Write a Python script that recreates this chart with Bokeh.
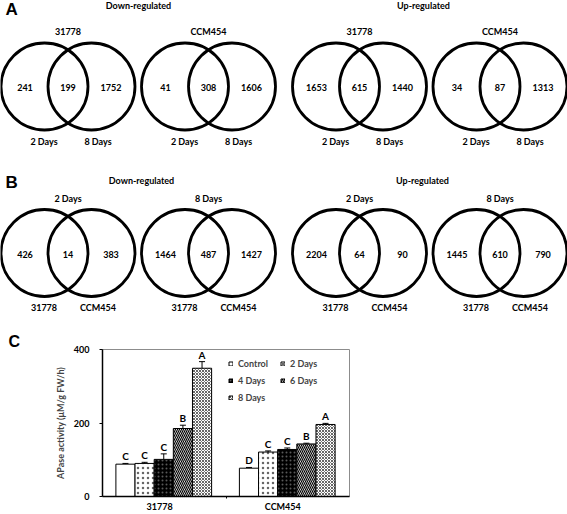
from bokeh.plotting import figure
from bokeh.models import (Range1d, Legend, LegendItem, Whisker, TeeHead,
                          ColumnDataSource, FixedTicker)
from bokeh.core.properties import value
from bokeh.embed import file_html
from bokeh.resources import INLINE

# ---------------- data ----------------
# Venn diagrams (panels A and B), in reading order
venn_titles = ["Down-regulated", "Up-regulated", "Down-regulated", "Up-regulated"]
venn_top = ["31778", "CCM454", "31778", "CCM454", "2 Days", "8 Days", "2 Days", "8 Days"]
venn_left_name = ["2 Days", "2 Days", "2 Days", "2 Days", "31778", "31778", "31778", "31778"]
venn_right_name = ["8 Days", "8 Days", "8 Days", "8 Days", "CCM454", "CCM454", "CCM454", "CCM454"]
venn_only_left = [241, 41, 1653, 34, 426, 1464, 2204, 1445]
venn_both = [199, 308, 615, 87, 14, 487, 64, 610]
venn_only_right = [1752, 1606, 1440, 1313, 383, 1427, 90, 790]

# Bar chart (panel C)
strains = ["31778", "CCM454"]
treatments = ["Control", "2 Days", "4 Days", "6 Days", "8 Days"]
apase_31778 = [88, 90, 101, 185, 349]
apase_ccm454 = [77, 121, 128, 143, 196]
err_31778 = [2, 3, 15, 9, 18]
err_ccm454 = [2, 3, 4, 2, 3]
letters_31778 = ["C", "C", "C", "B", "A"]
letters_ccm454 = ["D", "C", "C", "B", "A"]
y_ticks = [0, 200, 400]

# ---------------- style / layout ----------------
W = 567
FONT = value("Lato")
TXT = "9px"

# ---------------- Venn figure ----------------
v = figure(width=W, height=330, x_range=Range1d(0, 567), y_range=Range1d(330, 0),
           output_backend="svg", toolbar_location=None, min_border=0)
v.axis.visible = False
v.grid.visible = False
v.outline_line_color = None

col_mid = [67.5, 208, 359, 499.5]
row_mid = [86, 252.5]
half_sep = 23.5
radius = 43.5

cx, cy = [], []
num_x, num_y, num_t = [], [], []
top_x, top_y, top_t = [], [], []
bot_x, bot_y, bot_t = [], [], []
for k in range(len(venn_both)):
    mx = col_mid[k % 4]
    my = row_mid[k // 4]
    cx += [mx - half_sep, mx + half_sep]
    cy += [my, my]
    num_x += [mx - 43, mx, mx + 43]
    num_y += [my + 1, my + 1, my + 1]
    num_t += [str(venn_only_left[k]), str(venn_both[k]), str(venn_only_right[k])]
    top_x.append(mx)
    top_y.append(my - 55)
    top_t.append(venn_top[k])
    bot_x += [mx - 24, mx + 30]
    bot_y += [my + 54.5, my + 54.5]
    bot_t += [venn_left_name[k], venn_right_name[k]]

v.circle(x=cx, y=cy, radius=radius, fill_color=None, line_color="black", line_width=2.8)

def vtext(xs, ys, ts, size=TXT):
    v.text(x=xs, y=ys, text=ts, text_font=FONT, text_font_style="bold",
           text_font_size=size, text_align="center", text_baseline="middle",
           text_color="black")

vtext(num_x, num_y, num_t)
vtext(top_x, top_y, top_t)
vtext(bot_x, bot_y, bot_t)
title_x = [138, 423, 141, 422]
title_y = [5, 5, 180, 180]
vtext(title_x, title_y, venn_titles)

v.text(x=[5, 5], y=[8.5, 181.5], text=["A", "B"], text_font=value("Liberation Sans"),
       text_font_style="bold", text_font_size="17px", text_align="left",
       text_baseline="middle", text_color="black")

# ---------------- Bar figure ----------------
b = figure(width=W, height=184, x_range=Range1d(0, 2), y_range=Range1d(0, 400),
           output_backend="svg", toolbar_location=None,
           min_border_left=102, min_border_right=218, min_border_top=18, min_border_bottom=18)
b.grid.visible = False
b.outline_line_color = "#8c8c8c"
b.outline_line_width = 1

# panel letter as the figure title
b.title.text = "C"
b.title.align = "left"
b.title.offset = -94
b.title.standoff = 0
b.title.text_font = "Liberation Sans"
b.title.text_font_style = "bold"
b.title.text_font_size = "16px"
b.title.text_color = "black"

bar_w = 0.155
group_center = [i + 0.496 for i in range(len(strains))]
styles = [
    dict(fill_color="white"),
    dict(fill_color="white", hatch_pattern="dot", hatch_color="black", hatch_scale=5, hatch_weight=0.5, hatch_alpha=0.6),
    dict(fill_color="black", hatch_pattern="dot", hatch_color="white", hatch_scale=4, hatch_weight=0.5, hatch_alpha=0.35),
    dict(fill_color="white", hatch_pattern="left_diagonal_line", hatch_color="black", hatch_scale=4, hatch_weight=1.2),
    dict(fill_color="white", hatch_pattern="diagonal_cross", hatch_color="black", hatch_scale=3, hatch_weight=0.6),
]

items = []
wx, wlo, whi, lt = [], [], [], []
for j, t in enumerate(treatments):
    vals = [apase_31778[j], apase_ccm454[j]]
    errs = [err_31778[j], err_ccm454[j]]
    xs = [g + (j - 2) * bar_w for g in group_center]
    r = b.vbar(x=xs, top=vals, width=bar_w, bottom=0, line_color="black", line_width=1, **styles[j])
    items.append(LegendItem(label=t, renderers=[r]))
    wx += xs
    wlo += vals
    whi += [a + e for a, e in zip(vals, errs)]
    lt += [letters_31778[j], letters_ccm454[j]]

wsrc = ColumnDataSource(dict(x=wx, lo=wlo, hi=whi, t=lt))
b.add_layout(Whisker(base="x", lower="lo", upper="hi", source=wsrc, dimension="height",
                     line_color="black", line_width=1,
                     upper_head=TeeHead(size=6, line_color="black", line_width=1),
                     lower_head=None))
b.text(x="x", y="hi", text="t", source=wsrc, text_font=FONT, text_font_style="bold",
       text_font_size="10px", text_align="center", text_baseline="bottom", y_offset=-1,
       text_color="black")

legend = Legend(items=items, orientation="horizontal", ncols=2, location=(126, 93),
                label_text_font="Lato", label_text_font_style="bold", label_text_font_size=TXT,
                glyph_width=5, glyph_height=5, label_height=10, label_width=36, label_standoff=5,
                spacing=6, padding=2, margin=0,
                border_line_color=None, background_fill_alpha=0)
b.add_layout(legend)

# axes
label_shift = [-0.038, -0.04]
tick_pos = [i + 0.5 + s for i, s in enumerate(label_shift)]
b.xaxis.ticker = FixedTicker(ticks=tick_pos, minor_ticks=[1.0])
b.xaxis.major_label_overrides = {p: s for p, s in zip(tick_pos, strains)}
b.xaxis.major_tick_line_color = None
b.xaxis.major_tick_out = 0
b.xaxis.major_tick_in = 0
b.xaxis.minor_tick_in = 0
b.xaxis.minor_tick_out = 2
b.xaxis.minor_tick_line_color = "black"
b.xaxis.major_label_standoff = 2
b.xaxis.axis_line_width = 1.5
b.xaxis.axis_line_color = "black"

b.yaxis.ticker = FixedTicker(ticks=y_ticks)
b.yaxis.minor_tick_line_color = None
b.yaxis.major_tick_in = 0
b.yaxis.major_tick_out = 3
b.yaxis.major_label_standoff = 10
b.yaxis.axis_line_width = 1.5
b.yaxis.axis_line_color = "black"
b.yaxis.axis_label = "APase activity (μM/g FW/h)"
b.yaxis.axis_label_text_font = "Lato"
b.yaxis.axis_label_text_font_style = "bold"
b.yaxis.axis_label_text_font_size = TXT
b.yaxis.axis_label_standoff = 5

for ax in (b.xaxis, b.yaxis):
    ax.major_label_text_font = "Lato"
    ax.major_label_text_font_style = "bold"
    ax.major_label_text_font_size = TXT
    ax.major_label_text_color = "black"

open("out.html", "w").write(file_html([v, b], INLINE))
